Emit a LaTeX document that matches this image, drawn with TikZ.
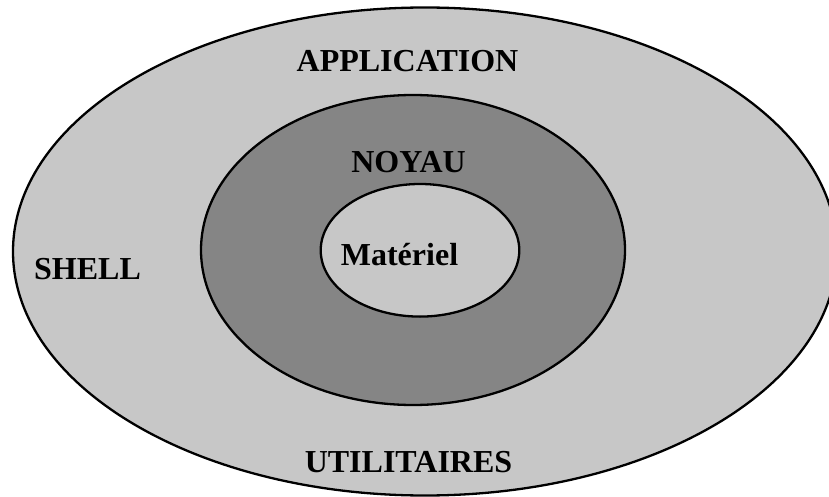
\documentclass[tikz,border=0pt]{standalone}
\usepackage{fontspec}
\setmainfont{Liberation Serif}
\begin{document}
\begin{tikzpicture}[x=1pt,y=-1pt,
    ring/.style={draw=black,line width=2.3pt},
    outerfill/.style={ring,fill=black!22},
    kernelfill/.style={ring,fill=black!48},
    label/.style={anchor=base,inner sep=0pt,font=\fontsize{32}{32}\selectfont\bfseries}]
  \useasboundingbox (0,0) rectangle (829,497);
  \clip (0,0) rectangle (829,497);
  % layers, from the outside in
  \path[outerfill]  (425,251.5) ellipse [x radius=412, y radius=244];
  \path[kernelfill] (413,250)   ellipse [x radius=212, y radius=155];
  \path[outerfill]  (420,250.3) ellipse [x radius=99.3, y radius=66.3];
  % layer names
  \node[label] (app)   at (407.5,72)  {APPLICATION};
  \node[label] (noyau) at (408.5,172) {NOYAU};
  \node[label] (shell) at (87.5,279)  {SHELL};
  \node[label] (mat)   at (399.5,265) {Matériel};
  \node[label] (util)  at (408.5,472) {UTILITAIRES};
\end{tikzpicture}
\end{document}
